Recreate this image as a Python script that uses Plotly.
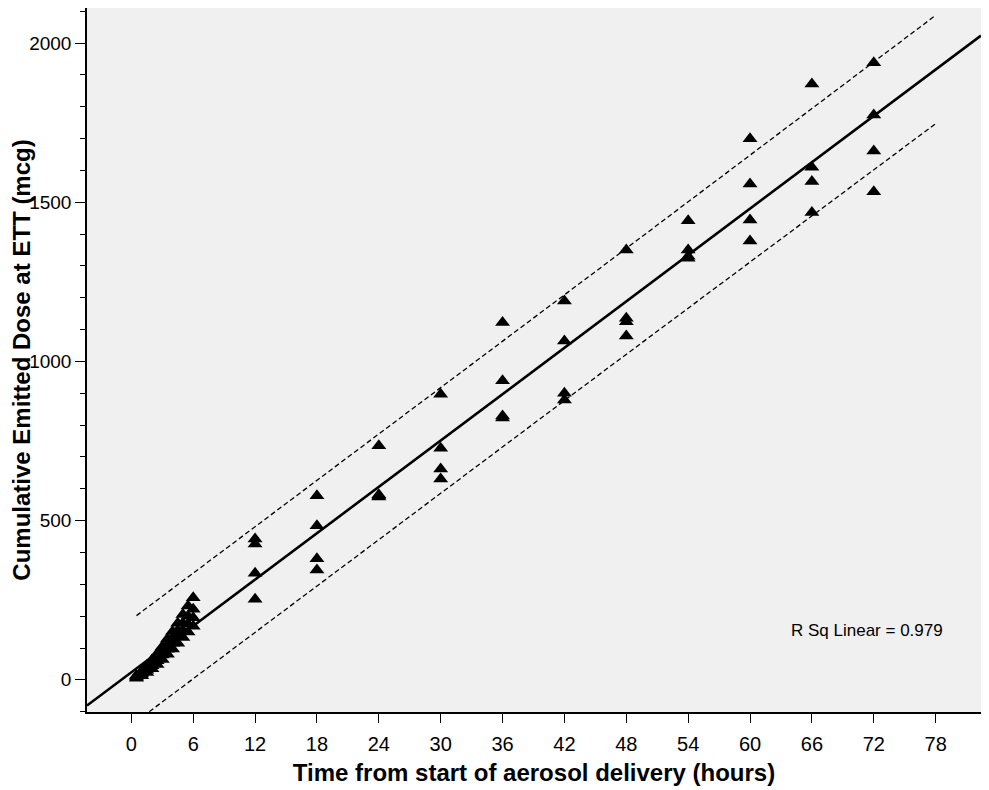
import numpy as np
import plotly.graph_objects as go

# sampling times (hours) and four replicate cumulative doses (mcg)
time_points = [0.5, 1, 1.5, 2, 2.5, 3, 3.5, 4, 4.5, 5, 5.5, 6,
               12, 18, 24, 30, 36, 42, 48, 54, 60, 66, 72]
rep_a = [14, 28, 44, 62, 82, 104, 128, 152, 178, 205, 232, 258,
         442, 578, 735, 897, 1122, 1190, 1350, 1442, 1699, 1871, 1938]
rep_b = [11, 23, 37, 52, 70, 90, 110, 132, 155, 178, 200, 222,
         427, 484, 581, 727, 939, 1064, 1136, 1350, 1557, 1610, 1774]
rep_c = [8, 18, 30, 44, 60, 78, 96, 115, 135, 155, 175, 195,
         335, 380, 577, 662, 829, 900, 1125, 1330, 1444, 1565, 1661]
rep_d = [5, 13, 23, 35, 48, 64, 80, 97, 115, 133, 150, 168,
         253, 345, 574, 631, 822, 879, 1080, 1324, 1378, 1468, 1533]

x_ticks = list(range(0, 79, 6))
y_ticks = [0, 500, 1000, 1500, 2000]
r_sq_label = "R Sq Linear = 0.979"

x = np.array(time_points * 4, dtype=float)
y = np.array(rep_a + rep_b + rep_c + rep_d, dtype=float)

# Linear fit and 95% prediction interval
slope, intercept = np.polyfit(x, y, 1)
n = len(x)
resid = y - (slope * x + intercept)
s = np.sqrt(np.sum(resid ** 2) / (n - 2))
sxx = np.sum((x - x.mean()) ** 2)
t_crit = 1.986

x_range = [-4.3, 82.4]
y_range = [-101, 2110]

fit_x = np.array(x_range)
fit_y = slope * fit_x + intercept

pi_x = np.linspace(min(time_points), x_ticks[-1], 60)
half = t_crit * s * np.sqrt(1 + 1 / n + (pi_x - x.mean()) ** 2 / sxx)
pi_mid = slope * pi_x + intercept

fig = go.Figure()
fig.add_trace(go.Scatter(x=pi_x, y=pi_mid + half, mode="lines",
                         line=dict(color="black", width=1.3, dash="5px,3px")))
fig.add_trace(go.Scatter(x=pi_x, y=pi_mid - half, mode="lines",
                         line=dict(color="black", width=1.3, dash="5px,3px")))
fig.add_trace(go.Scatter(x=fit_x, y=fit_y, mode="lines",
                         line=dict(color="black", width=2.6)))
fig.add_trace(go.Scatter(x=x, y=y, mode="markers",
                         marker=dict(symbol="triangle-up", size=13, color="black",
                                     line=dict(width=0))))

fig.add_annotation(x=71.3, y=154, xref="x", yref="y", text=r_sq_label,
                   showarrow=False, font=dict(size=17, color="black"))

# the page body adds an 8px offset, so the figure is sized to fit inside it
fig.update_layout(
    width=981, height=782,
    margin=dict(l=79, r=8, t=0, b=78),
    plot_bgcolor="#F0F0F0", paper_bgcolor="white",
    showlegend=False,
    font=dict(family="Liberation Sans, Arial", color="black"),
)
fig.update_xaxes(
    range=x_range, tickvals=x_ticks, ticks="outside", ticklen=9,
    tickwidth=1.3, tickcolor="black", showgrid=False, zeroline=False,
    showline=True, linecolor="black", linewidth=1.5, mirror=True,
    automargin=False, tickfont=dict(size=20), ticklabelstandoff=4,
    title=dict(text="<b>Time from start of aerosol delivery (hours)</b>",
               font=dict(size=24), standoff=10),
)
fig.update_yaxes(
    range=y_range, tickvals=y_ticks, ticks="outside",
    ticklen=10, tickwidth=1.3, tickcolor="black", showgrid=False,
    zeroline=False, showline=True, linecolor="black", linewidth=1.5,
    mirror=True, automargin=False, tickfont=dict(size=19),
    minor=dict(dtick=100, tick0=0, ticks="outside", ticklen=5,
               tickwidth=1.3, tickcolor="black", showgrid=False),
    title=dict(text="<b>Cumulative Emitted Dose at ETT (mcg)</b>",
               font=dict(size=24), standoff=8),
)

fig.write_html("out.html")
